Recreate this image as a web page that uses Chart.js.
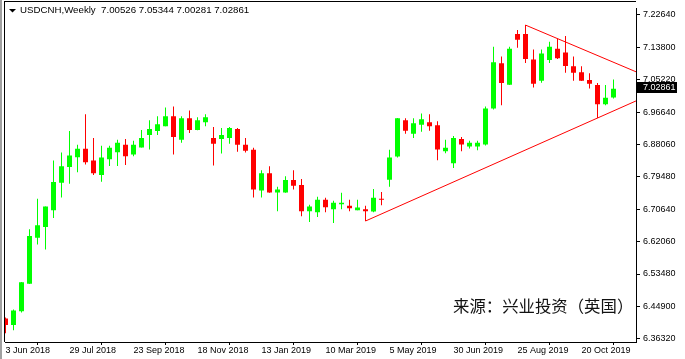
<!DOCTYPE html>
<html><head><meta charset="utf-8">
<script src="https://cdn.jsdelivr.net/npm/chart.js@4"></script>
<style>html,body{margin:0;padding:0;background:#fff;overflow:hidden}</style>
</head><body>
<canvas id="c" width="685" height="359" style="display:block;width:685px;height:359px"></canvas>
<script>
const titleText = "USDCNH,Weekly  7.00526 7.05344 7.00281 7.02861";
const sourceNote = "来源：兴业投资（英国）";
const weekLabels = ["3 Jun 2018","29 Jul 2018","23 Sep 2018","18 Nov 2018","13 Jan 2019","10 Mar 2019","5 May 2019","30 Jun 2019","25 Aug 2019","20 Oct 2019"];
const weekLabelIndex = [0,8,16,24,32,40,48,56,64,72];
const priceTicks = [7.22640,7.13800,7.05220,6.96640,6.88060,6.79480,6.70640,6.62060,6.53480,6.44900,6.36320];
const yMin = 6.35354, yMax = 7.24288;
const xMin = -0.0625, xMax = 78.8125;

const opens  = [6.4163,6.3988,6.4354,6.5087,6.6316,6.6604,6.7048,6.7781,6.8199,6.8461,6.8688,6.8375,6.7990,6.8409,6.8592,6.8793,6.8531,6.8722,6.9055,6.9159,6.9290,6.9552,6.8924,6.9499,6.9185,6.9395,6.8976,6.8950,6.8976,6.9212,6.8793,6.8662,6.7571,6.8034,6.7519,6.7519,6.7851,6.7721,6.7022,6.6996,6.7328,6.7074,6.7205,6.7171,6.7048,6.7074,6.7014,6.7354,6.7859,6.8479,6.9447,6.9089,6.9324,6.9395,6.9316,6.8618,6.8304,6.8950,6.8749,6.8749,6.8801,6.9761,7.0964,7.0396,7.1749,7.1749,7.1069,7.0501,7.1050,7.1356,7.1252,7.0886,7.0729,7.0519,7.0389,6.9873,7.00526];
const highs  = [6.4189,6.4399,6.5135,6.6544,6.7354,6.7150,6.8375,6.8584,6.9159,6.8793,6.9604,6.8976,6.8767,6.8767,6.8924,6.8950,6.8898,6.9185,6.9447,6.9552,6.9787,6.9813,6.9552,6.9709,6.9525,6.9604,6.9264,6.9238,6.9264,6.9238,6.8976,6.8715,6.8113,6.8218,6.7676,6.7956,6.8113,6.7878,6.7197,6.7407,6.7381,6.7302,6.7511,6.7328,6.7328,6.7171,6.7616,6.7537,6.8662,6.9505,6.9499,6.9499,6.9630,6.9604,6.9421,6.8924,6.9028,6.9002,6.8898,6.8898,6.9813,7.1409,7.1147,7.1409,7.1853,7.1984,7.1330,7.1330,7.1539,7.1618,7.1696,7.1147,7.0886,7.0702,7.0441,7.0389,7.05344];
const lows   = [6.3771,6.3849,6.4320,6.5080,6.6133,6.6002,6.6839,6.7388,6.7755,6.8061,6.8270,6.7990,6.7807,6.8225,6.8225,6.8252,6.8487,6.8720,6.8670,6.9055,6.9285,6.8531,6.8845,6.9107,6.9180,6.9290,6.8244,6.8558,6.8819,6.8610,6.8584,6.7388,6.7388,6.7515,6.7022,6.7515,6.7598,6.6891,6.6734,6.6865,6.6996,6.6708,6.7074,6.7022,6.7045,6.6761,6.6996,6.7179,6.7676,6.8453,6.9089,6.8976,6.9141,6.9167,6.8382,6.8565,6.8173,6.8618,6.8696,6.8644,6.8775,6.9735,6.9847,7.0390,7.1383,7.0972,7.0318,7.0449,7.0972,7.1077,7.0710,7.0501,7.0495,7.0292,6.9507,6.9847,7.00281];
const closes = [6.3988,6.4372,6.5131,6.6360,6.6648,6.7145,6.7799,6.8218,6.8505,6.8688,6.8330,6.8034,6.8453,6.8715,6.8845,6.8487,6.8793,6.8976,6.9212,6.9342,6.9552,6.9002,6.9499,6.9185,6.9447,6.9525,6.8819,6.9055,6.9238,6.8793,6.8636,6.7598,6.8034,6.7519,6.7598,6.7851,6.7702,6.7022,6.7145,6.7328,6.7127,6.7250,6.7250,6.7101,6.7119,6.7022,6.7381,6.7328,6.8453,6.9499,6.9167,6.9368,6.9473,6.9290,6.8670,6.8715,6.8976,6.8801,6.8845,6.8845,6.9761,7.0990,7.0441,7.1356,7.1592,7.1077,7.0423,7.1226,7.1409,7.1103,7.0893,7.0710,7.0501,7.0423,6.9873,7.0049,7.02861];

const upperTrend = [[65, 7.19841], [78.8125, 7.0739]];
const lowerTrend = [[45, 6.67606], [78.8125, 6.9962]];

const upColor = '#00ff00', downColor = '#ff0000';
const candleColors = opens.map((o, i) => closes[i] >= o ? upColor : downColor);
const tickFont = {family: 'Liberation Sans', size: 9};

const decor = {
  id: 'decor',
  beforeDraw(chart) {
    const c = chart.ctx;
    c.save();
    c.fillStyle = '#fff';
    c.fillRect(0, 0, chart.width, chart.height);
    c.fillStyle = '#a0a0a0';
    c.fillRect(0, 0, 2, chart.height);
    c.restore();
  },
  afterDraw(chart) {
    const c = chart.ctx, a = chart.chartArea, ys = chart.scales.y;
    c.save();
    c.fillStyle = '#000';
    c.fillRect(4, 1, a.right - 4, 1);
    c.fillRect(4, 1, 1, a.bottom - 1);
    // title triangle
    c.beginPath(); c.moveTo(9, 9); c.lineTo(16, 9); c.lineTo(12.5, 12.5); c.closePath(); c.fill();
    c.font = '9.7px "Liberation Sans"';
    c.textBaseline = 'middle';
    c.textAlign = 'left';
    c.fillText(titleText, 20, 10.5);
    // source note
    c.font = '16.4px "Noto Sans CJK SC"';
    c.fillStyle = '#111';
    c.fillText(sourceNote, 453, 306);
    // current price box
    const last = closes[closes.length - 1];
    const py = ys.getPixelForValue(last);
    const top = Math.round(py - 7);
    c.fillStyle = '#000';
    c.fillRect(a.right + 1, top, 40, 11);
    c.fillStyle = '#fff';
    c.font = '9px "Liberation Sans"';
    c.fillText(last.toFixed(5), 643, top + 5.5);
    c.restore();
  }
};

new Chart(document.getElementById('c'), {
  type: 'bar',
  data: {
    datasets: [
      { type: 'line', data: upperTrend.map(p => ({x: p[0], y: p[1]})), borderColor: '#ff0000', borderWidth: 1, pointRadius: 0, order: 0 },
      { type: 'line', data: lowerTrend.map(p => ({x: p[0], y: p[1]})), borderColor: '#ff0000', borderWidth: 1, pointRadius: 0, order: 0 },
      { data: opens.map((o, i) => ({x: i, y: [o, closes[i]]})), backgroundColor: candleColors, barThickness: 5, grouped: false, inflateAmount: 0, borderWidth: 0, order: 1 },
      { data: opens.map((o, i) => ({x: i, y: [lows[i], highs[i]]})), backgroundColor: candleColors, barThickness: 1, grouped: false, inflateAmount: 0, borderWidth: 0, order: 2 }
    ]
  },
  options: {
    responsive: false,
    animation: false,
    events: [],
    layout: { padding: {left: 5, top: 2, right: 0, bottom: 0} },
    plugins: { legend: {display: false}, tooltip: {enabled: false} },
    scales: {
      x: {
        type: 'linear', min: xMin, max: xMax, offset: false,
        afterBuildTicks: s => { s.ticks = weekLabelIndex.map(v => ({value: v})); },
        afterFit: s => { s.height = 17; },
        grid: { drawOnChartArea: false, drawTicks: true, tickLength: 3, color: '#000' },
        border: { display: true, color: '#000' },
        ticks: { align: 'start', autoSkip: false, maxRotation: 0, minRotation: 0, padding: 0, color: '#000', font: tickFont,
                 callback: (v, i) => weekLabels[i] }
      },
      y: {
        position: 'right', min: yMin, max: yMax,
        afterBuildTicks: s => { s.ticks = priceTicks.map(v => ({value: v})); },
        afterFit: s => { s.width = 49; },
        grid: { drawOnChartArea: false, drawTicks: true, tickLength: 4, color: '#000' },
        border: { display: true, color: '#000' },
        ticks: { padding: 3, color: '#000', font: tickFont, callback: v => Number(v).toFixed(5) }
      }
    }
  },
  plugins: [decor]
});
</script>
</body></html>
